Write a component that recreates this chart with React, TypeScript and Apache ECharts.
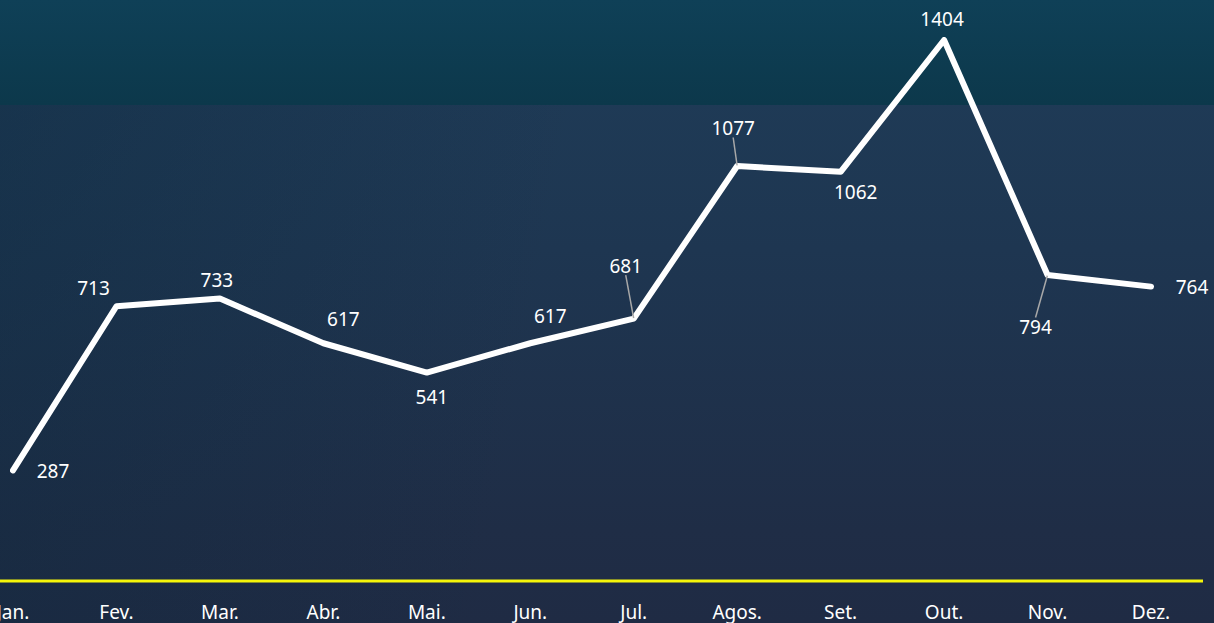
import React, { useEffect, useRef } from "react";
import * as echarts from "echarts";

const months = ["Jan.", "Fev.", "Mar.", "Abr.", "Mai.", "Jun.", "Jul.", "Agos.", "Set.", "Out.", "Nov.", "Dez."];
const values = [287, 713, 733, 617, 541, 617, 681, 1077, 1062, 1404, 794, 764];
// label offsets (dx, dy) relative to each point
const labelDx = [40, -23, -3, 20, 5, 20, -8, -4, 15, -2, -12, 41];
const labelDy = [1, -18, -19, -24, 24, -27, -53, -38, 20, -21, 52, 0];
const leader = [false, false, false, false, false, false, true, true, false, false, true, false];

export default function App() {
  const ref = useRef<HTMLDivElement>(null);
  useEffect(() => {
    const chart = echarts.init(ref.current!, null, { renderer: "svg" });
    const font = "'Noto Sans', 'Open Sans', sans-serif";
    chart.setOption({
      animation: false,
      backgroundColor: "transparent",
      grid: { left: 13, right: 63, top: 40, bottom: 42, containLabel: false, outerBoundsMode: "none" },
      xAxis: {
        type: "category",
        data: months,
        boundaryGap: false,
        axisLine: { show: false },
        axisTick: { show: false },
        axisLabel: { color: "#ffffff", fontSize: 19, fontFamily: font, margin: 21, interval: 0 },
        splitLine: { show: false },
      },
      yAxis: {
        type: "value",
        min: 0,
        max: 1404,
        show: false,
        splitLine: { show: false },
      },
      graphic: [
        {
          type: "line",
          shape: { x1: 0, y1: 581, x2: 1203, y2: 581 },
          style: { stroke: "#f5f50a", lineWidth: 3 },
          z: 1,
        },
      ],
      series: [
        {
          type: "line",
          data: values.map((v, i) => ({
            value: v,
            labelLine: { show: leader[i] },
          })),
          labelLayout: (params: any) => {
            const i = params.dataIndex;
            return { dx: labelDx[i], dy: labelDy[i] };
          },
          labelLine: { show: false, lineStyle: { color: "#a8a8a8", width: 1.5 } },
          symbol: "circle",
          symbolSize: 1,
          showSymbol: true,
          itemStyle: { color: "#ffffff" },
          lineStyle: { color: "#ffffff", width: 6, cap: "round", join: "round" },
          label: {
            show: true,
            position: "inside",
            color: "#ffffff",
            fontSize: 19,
            fontFamily: font,
          },
          z: 3,
        },
      ],
    });
    return () => chart.dispose();
  }, []);
  return (
    <div
      ref={ref}
      style={{
        position: "fixed",
        left: 0,
        top: 0,
        width: 1214,
        height: 623,
        background:
          "linear-gradient(180deg, #0f4057 0%, #0c384b 100%) top left / 100% 105px no-repeat, linear-gradient(100deg, rgba(10,40,60,0.35) 0%, rgba(10,40,60,0) 45%), linear-gradient(180deg, #1f3d59 0%, #1e3651 40%, #1f2d46 85%, #1f2b44 100%)",
      }}
    />
  );
}
